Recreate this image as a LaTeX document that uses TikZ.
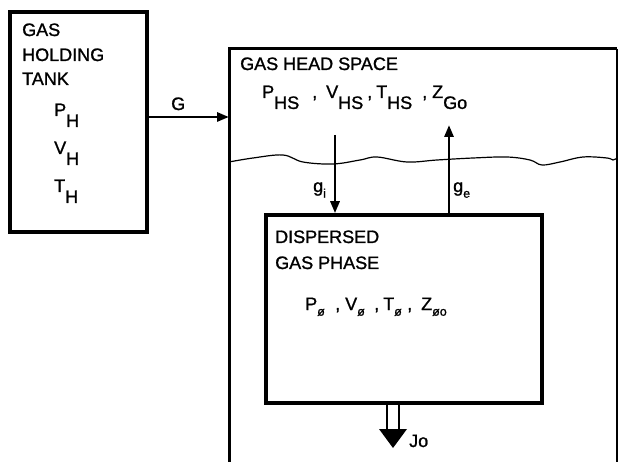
\documentclass[tikz,border=0pt]{standalone}
\usepackage{fontspec}
\setmainfont[FakeBold=1.2,AutoFakeBold=1.2]{Liberation Sans}
\usetikzlibrary{arrows.meta}
\newcommand{\lowsub}[1]{\raisebox{-1.15ex}{#1}}
\newcommand{\smsub}[1]{\raisebox{-0.6ex}{\fontsize{12.5}{12.5}\selectfont #1}}
\tikzset{
  lbl/.style={anchor=base west, inner sep=0pt, font=\fontsize{18}{20}\selectfont\bfseries},
  thickbox/.style={draw, line width=3.5pt},
  flow/.style={line width=2.8pt, -{Triangle[length=12pt,width=9pt]}},
}
\begin{document}
\begin{tikzpicture}[x=1pt,y=-1pt]
\useasboundingbox (0,0) rectangle (618,462);
% holding tank
\node[thickbox, minimum width=137pt, minimum height=220pt, inner sep=0pt] (tank) at (78.5,122) {};
\node[lbl] (t1) at (22,36) {GAS};
\node[lbl] (t2) at (22,61) {HOLDING};
\node[lbl] (t3) at (22,85) {TANK};
\node[lbl] (ph) at (54,116) {P\lowsub{H}};
\node[lbl] (vh) at (54,154) {V\lowsub{H}};
\node[lbl] (th) at (54,192) {T\lowsub{H}};
% big head space box (open bottom)
\coordinate (bl) at (229,462);
\coordinate (tl) at (229,49);
\coordinate (tr) at (617,49);
\coordinate (br) at (617,462);
\draw[line width=3pt] (bl) -- (tl) -- (tr);
\draw[line width=1.2pt] (tr) -- (br);
% G arrow
\coordinate (gin) at (229,117);
\draw[flow] (tank.east |- gin) -- (gin);
\node[lbl] (G) at (171,110) {G};
% head space labels
\node[lbl] (hs) at (240,70) {GAS HEAD SPACE};
\node[lbl] (phs) at (262,98) {P\lowsub{HS}};
\node[lbl] (c1) at (312,98) {,};
\node[lbl] (vhs) at (326,98) {V\lowsub{HS}};
\node[lbl] (c2) at (367,98) {,};
\node[lbl] (ths) at (376,98) {T\lowsub{HS}};
\node[lbl] (c3) at (422,98) {,};
\node[lbl] (zgo) at (432,98) {Z\lowsub{Go}};
% liquid surface
\draw[line width=1.2pt] plot[smooth, tension=0.6] coordinates {
 (229,162) (253,158) (283,155) (303,162) (333,164) (360,160) (377,157)
 (407,162) (437,160) (473,158) (507,157) (530,160) (542,165) (560,162)
 (583,157) (607,158) (613,160) (617,158)};
% dispersed gas phase box
\node[thickbox, minimum width=276pt, minimum height=188pt, inner sep=0pt] (disp) at (404,309) {};
\node[lbl] (d1) at (275,243) {DISPERSED};
\node[lbl] (d2) at (275,269) {GAS PHASE};
\node[lbl] (pp) at (305,310) {P\smsub{ø}};
\node[lbl] (k1) at (335,310) {,};
\node[lbl] (vp) at (345,310) {V\smsub{ø}};
\node[lbl] (k2) at (374,310) {,};
\node[lbl] (tp) at (383,310) {T\smsub{ø}};
\node[lbl] (k3) at (407,310) {,};
\node[lbl] (zp) at (421,310) {Z\smsub{øo}};
% exchange arrows
\coordinate (gi0) at (335,135);
\draw[flow] (gi0) -- (gi0 |- disp.north);
\node[lbl] (gi) at (313,192) {g\smsub{i}};
\coordinate (ge1) at (449,125);
\draw[flow] (ge1 |- disp.north) -- (ge1);
\node[lbl] (ge) at (453,192) {g\smsub{e}};
% Jo hollow arrow
\coordinate (ja) at (387,430);
\coordinate (jb) at (399,430);
\draw[line width=1.6pt] (ja |- disp.south) -- (ja);
\draw[line width=1.6pt] (jb |- disp.south) -- (jb);
\fill (379,429) -- (407,429) -- (393,448) -- cycle;
\node[lbl] (jo) at (409,447) {Jo};
\end{tikzpicture}
\end{document}
